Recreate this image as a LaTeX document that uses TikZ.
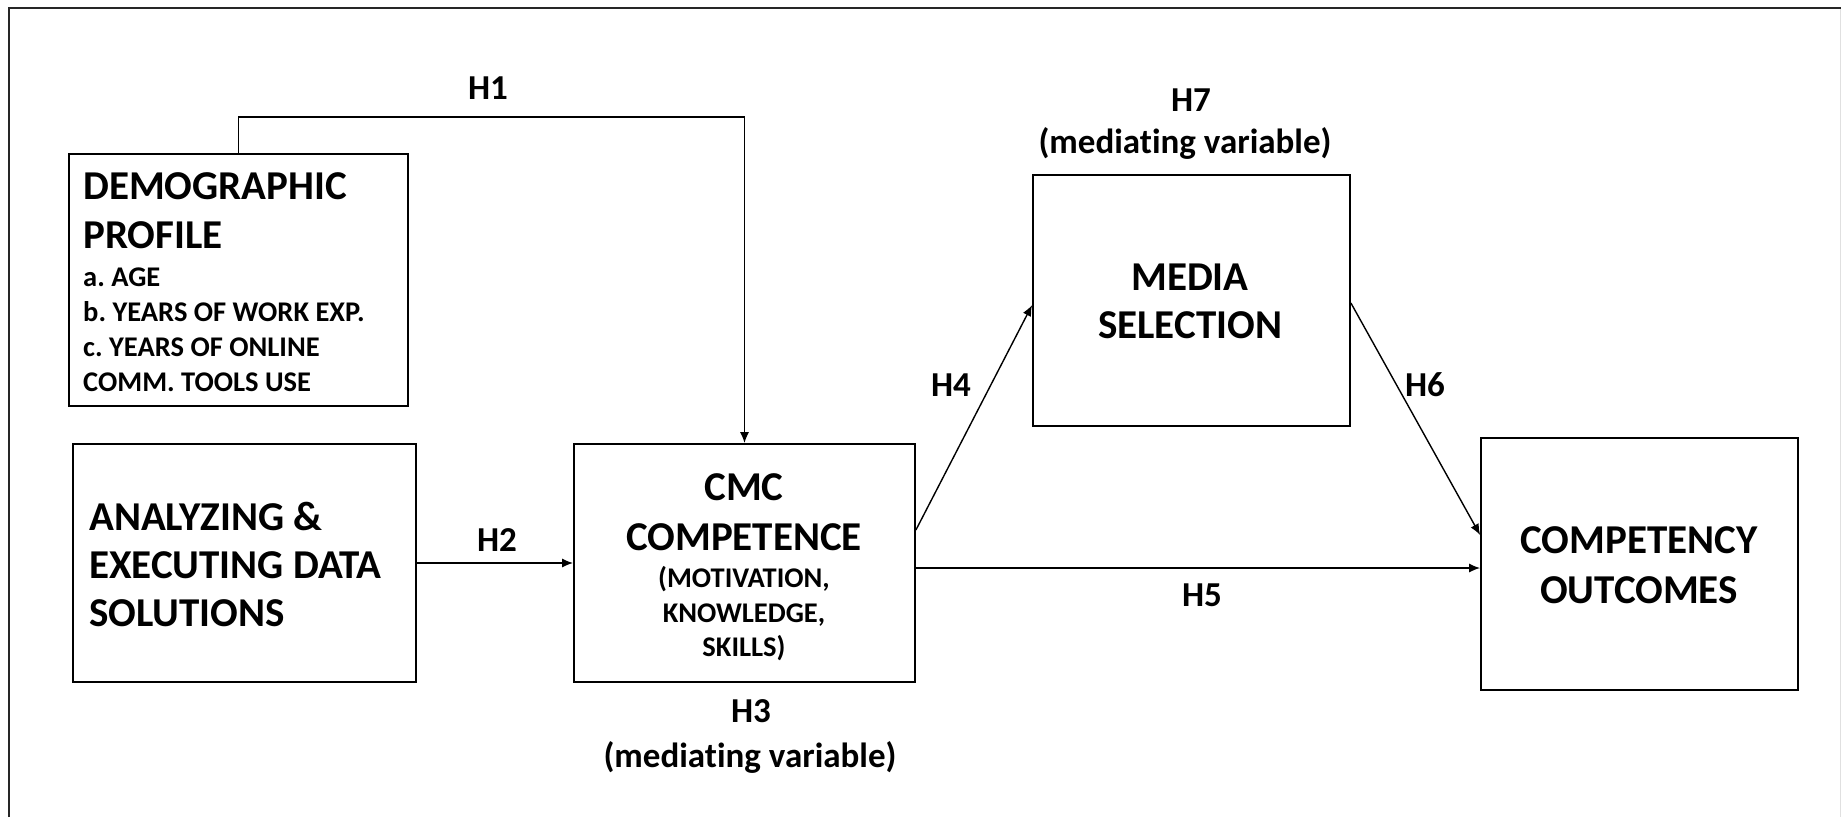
\documentclass[tikz,border=0pt]{standalone}
\usepackage{fontspec}
\setmainfont{Carlito}[Ligatures={NoCommon}]
\usetikzlibrary{arrows.meta}
\frenchspacing
\begin{document}
\begin{tikzpicture}[x=1pt,y=-1pt,
  box/.style={draw, line width=1.8pt, inner sep=0pt},
  big/.style={font=\fontsize{41}{48}\selectfont\bfseries, inner sep=0pt},
  small/.style={font=\fontsize{28.5}{34}\selectfont\bfseries, inner sep=0pt},
  hlab/.style={font=\fontsize{35}{42}\selectfont\bfseries, inner sep=0pt},
  arr/.style={-{Latex[length=11pt,width=9pt]}, line width=1.4pt}]
\useasboundingbox (0,0) rectangle (1841,817);
\fill[white] (0,0) rectangle (1841,817);

% frame
\draw[line width=2.5pt, black!85] (9,817) -- (9,8) -- (1841,8);
\draw[line width=1pt, black!12] (1840,9) -- (1840,817);

% boxes
\node[box, minimum width=339pt, minimum height=252pt] (demo) at (238.5,280) {};
\node[box, minimum width=343pt, minimum height=238pt] (ana)  at (244.5,563) {};
\node[box, minimum width=341pt, minimum height=238pt] (cmc)  at (744.5,563) {};
\node[box, minimum width=317pt, minimum height=251pt] (media) at (1191.5,300.5) {};
\node[box, minimum width=317pt, minimum height=252pt] (comp) at (1639.5,564) {};

% demographic profile text
\node[big, anchor=base west] (demo1) at (83,199) {DEMOGRAPHIC};
\node[big, anchor=base west] (demo2) at (83,248) {PROFILE};
\node[small, anchor=base west] (demo3) at (83,286) {a. AGE};
\node[small, anchor=base west] (demo4) at (83,321) {b. YEARS OF WORK EXP.};
\node[small, anchor=base west] (demo5) at (83,356) {c. YEARS OF ONLINE};
\node[small, anchor=base west] (demo6) at (83,391) {COMM. TOOLS USE};

% analyzing text
\node[big, anchor=base west] (ana1) at (89,530) {ANALYZING \&};
\node[big, anchor=base west] (ana2) at (89,578) {EXECUTING DATA};
\node[big, anchor=base west] (ana3) at (89,626) {SOLUTIONS};

% CMC competence text
\node[big, anchor=base] (cmc1) at (744,500) {CMC};
\node[big, anchor=base] (cmc2) at (744,550) {COMPETENCE};
\node[small, anchor=base] (cmc3) at (744,587) {(MOTIVATION,};
\node[small, anchor=base] (cmc4) at (744,622) {KNOWLEDGE,};
\node[small, anchor=base] (cmc5) at (744,656) {SKILLS)};

% media selection text
\node[big, anchor=base] (med1) at (1190,290) {MEDIA};
\node[big, anchor=base] (med2) at (1190,338) {SELECTION};

% competency outcomes text
\node[big, anchor=base] (comp1) at (1639,553) {COMPETENCY};
\node[big, anchor=base] (comp2) at (1639,603) {OUTCOMES};

% connectors
\coordinate (h1bend) at (744.5,117);
\draw[arr] (demo.north) |- (h1bend) -- (cmc.north);
\draw[arr] (ana.east) -- (cmc.west);
\draw[arr] ([yshift=33pt]cmc.east) -- ([yshift=-4.5pt]media.west);
\draw[arr] ([yshift=-2.5pt]media.east) -- ([yshift=29pt]comp.west);
\draw[arr] ([yshift=-5pt]cmc.east) -- ([yshift=-4pt]comp.west);

% hypothesis labels
\node[hlab] (h1) at (488,88) {H1};
\node[hlab] (h2) at (497,540) {H2};
\node[hlab] (h3) at (751,711) {H3};
\node[hlab] (h3m) at (750,757) {(mediating variable)};
\node[hlab] (h4) at (951,385) {H4};
\node[hlab] (h5) at (1202,595) {H5};
\node[hlab] (h6) at (1425,385) {H6};
\node[hlab] (h7) at (1191,100) {H7};
\node[hlab] (h7m) at (1185,143) {(mediating variable)};
\end{tikzpicture}
\end{document}
